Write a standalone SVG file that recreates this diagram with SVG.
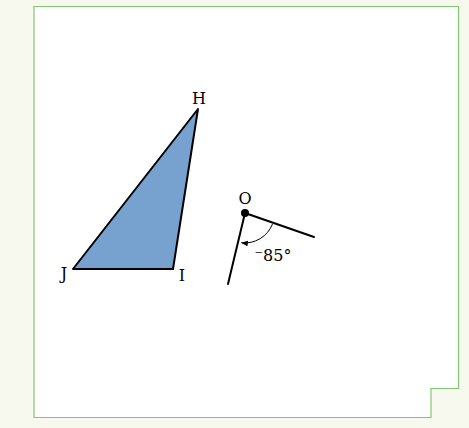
<svg xmlns="http://www.w3.org/2000/svg" width="469" height="428" viewBox="0 0 469 428">
<defs>
<style>
.lbl{font-family:"DejaVu Serif","Liberation Serif",serif;font-size:16px;fill:#000}
.ln{stroke:#000;stroke-width:2;fill:none;stroke-linecap:round}
</style>
<marker id="ah" viewBox="0 0 10 10" refX="9" refY="5" markerWidth="7" markerHeight="7" orient="auto" markerUnits="userSpaceOnUse">
<path d="M0,1 L10,5 L0,9 Z" fill="#000"/>
</marker>
</defs>
<rect x="0" y="0" width="469" height="428" fill="#f7f9ee"/>
<path d="M34,6.5 H458.5 V388.5 H431 V417.5 H34 Z" fill="#fff" stroke="#80c870" stroke-width="1.2"/>
<g id="triangle">
<polygon points="198,109 173,269 73,269" fill="#77a2cf" stroke="#000" stroke-width="2" stroke-linejoin="round"/>
<text class="lbl" x="199" y="104" text-anchor="middle">H</text>
<text class="lbl" x="182" y="281" text-anchor="middle">I</text>
<text class="lbl" x="64" y="279" text-anchor="middle">J</text>
</g>
<g id="angle">
<line class="ln" x1="245" y1="213" x2="314" y2="237"/>
<line class="ln" x1="245" y1="213" x2="228" y2="284"/>
<circle cx="245" cy="213" r="4" fill="#000"/>
<text class="lbl" x="245" y="204" text-anchor="middle">O</text>
</g>
<g id="connectors">
<path d="M272.5,224 A30,30 0 0 1 241.5,242.8" fill="none" stroke="#000" stroke-width="1" marker-end="url(#ah)"/>
</g>
<text class="lbl" x="273" y="261" text-anchor="middle">⁻85°</text>
</svg>
